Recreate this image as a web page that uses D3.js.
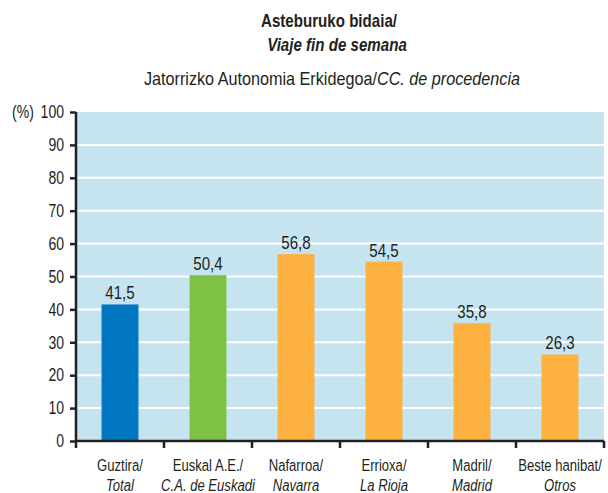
<!DOCTYPE html>
<html>
<head>
<meta charset="utf-8">
<script src="https://cdn.jsdelivr.net/npm/d3@7"></script>
<style>
  body { margin: 0; background: #fff; }
  text { font-family: "Liberation Sans", Arial, sans-serif; fill: #231f20; }
</style>
</head>
<body>
<div id="chart"></div>
<script>
// categories: [euskara, castellano]
const categories = [
  ["Guztira/", "Total"],
  ["Euskal A.E./", "C.A. de Euskadi"],
  ["Nafarroa/", "Navarra"],
  ["Errioxa/", "La Rioja"],
  ["Madril/", "Madrid"],
  ["Beste hanibat/", "Otros"]
];
const values = [41.5, 50.4, 56.8, 54.5, 35.8, 26.3];
const barColors = ["#0077c0", "#7dc242", "#fbb040", "#fbb040", "#fbb040", "#fbb040"];
const yTicks = [0, 10, 20, 30, 40, 50, 60, 70, 80, 90, 100];

const width = 608, height = 493;
const margin = { top: 112, right: 4, bottom: 52, left: 76 };

// letra estrecha: se comprime en horizontal alrededor de su x
function condense(sel, s) {
  sel.each(function() {
    const t = d3.select(this);
    const cx = +t.attr("x") || 0;
    t.attr("transform", `translate(${cx},0) scale(${s},1) translate(${-cx},0)`);
  });
}

const svg = d3.select("#chart").append("svg")
  .attr("width", width)
  .attr("height", height);

const x = d3.scaleBand()
  .domain(categories.map((d, i) => i))
  .range([margin.left, width - margin.right])
  .paddingInner(0)
  .paddingOuter(0);

const y = d3.scaleLinear()
  .domain([0, 100])
  .range([height - margin.bottom, margin.top]);

// fondo
svg.append("rect")
  .attr("x", margin.left)
  .attr("y", margin.top)
  .attr("width", width - margin.right - margin.left)
  .attr("height", y(0) - margin.top)
  .attr("fill", "#c5e4f0");

// rejilla blanca
svg.append("g")
  .selectAll("line")
  .data(yTicks.filter(d => d > 0 && d < 100))
  .enter()
  .append("line")
  .attr("x1", margin.left)
  .attr("x2", width - margin.right)
  .attr("y1", d => y(d))
  .attr("y2", d => y(d))
  .attr("stroke", "#fff")
  .attr("stroke-width", 2);

// barras
const barW = x.bandwidth() * 0.42;
svg.append("g")
  .selectAll("rect")
  .data(values)
  .enter()
  .append("rect")
  .attr("x", (d, i) => x(i) + x.bandwidth() / 2 - barW / 2)
  .attr("y", d => y(d))
  .attr("width", barW)
  .attr("height", d => y(0) - y(d))
  .attr("fill", (d, i) => barColors[i]);

// etiquetas de valor
svg.append("g")
  .selectAll("text")
  .data(values)
  .enter()
  .append("text")
  .attr("x", (d, i) => x(i) + x.bandwidth() / 2)
  .attr("y", d => y(d) - 5)
  .attr("text-anchor", "middle")
  .style("font-size", "18px")
  .text(d => d.toFixed(1).replace(".", ","))
  .call(condense, 0.84);

// eje Y
const yAxis = svg.append("g")
  .attr("transform", `translate(${margin.left},0)`)
  .call(d3.axisLeft(y).tickValues(yTicks).tickSize(6).tickPadding(6));
yAxis.select(".domain").attr("stroke", "#231f20").attr("stroke-width", 2.5)
  .attr("d", `M0,${y(100)}V${y(0)}`);
yAxis.selectAll(".tick line").attr("stroke", "#231f20").attr("stroke-width", 2.5);
yAxis.selectAll(".tick text").style("font-size", "18px").attr("fill", "#231f20")
  .style("font-family", "'Liberation Sans', Arial, sans-serif")
  .call(condense, 0.78);

svg.append("text")
  .attr("x", 12)
  .attr("y", y(100) + 6)
  .style("font-size", "18px")
  .text("(%)")
  .call(condense, 0.78);

// eje X
const xAxis = svg.append("g")
  .attr("transform", `translate(0,${y(0)})`)
  .call(d3.axisBottom(x).tickSize(0).tickFormat(""));
xAxis.select(".domain").attr("stroke", "#231f20").attr("stroke-width", 2.5)
  .attr("d", `M${margin.left},0H${width - margin.right}`);
xAxis.selectAll(".tick").remove();

// marcas entre categorías
const edges = categories.map((d, i) => x(i)).concat([x(categories.length - 1) + x.bandwidth()]);
xAxis.selectAll("line.sep")
  .data(edges)
  .enter()
  .append("line")
  .attr("class", "sep")
  .attr("x1", d => d)
  .attr("x2", d => d)
  .attr("y1", 0)
  .attr("y2", 7)
  .attr("stroke", "#231f20")
  .attr("stroke-width", 2.5);

const labels = svg.append("g")
  .selectAll("text")
  .data(categories)
  .enter()
  .append("text")
  .attr("x", (d, i) => x(i) + x.bandwidth() / 2)
  .attr("text-anchor", "middle")
  .style("font-size", "17px");
labels.append("tspan")
  .attr("x", (d, i) => x(i) + x.bandwidth() / 2)
  .attr("y", y(0) + 30)
  .text(d => d[0]);
labels.append("tspan")
  .attr("x", (d, i) => x(i) + x.bandwidth() / 2)
  .attr("y", y(0) + 50)
  .style("font-style", "italic")
  .text(d => d[1]);
labels.call(condense, 0.77);

// títulos
svg.append("text")
  .attr("x", 329)
  .attr("y", 27)
  .attr("text-anchor", "middle")
  .style("font-size", "18px")
  .style("font-weight", "bold")
  .text("Asteburuko bidaia/")
  .call(condense, 0.84);
svg.append("text")
  .attr("x", 337)
  .attr("y", 51)
  .attr("text-anchor", "middle")
  .style("font-size", "18px")
  .style("font-weight", "bold")
  .style("font-style", "italic")
  .text("Viaje fin de semana")
  .call(condense, 0.84);

const sub = svg.append("text")
  .attr("x", 332)
  .attr("y", 85)
  .attr("text-anchor", "middle")
  .style("font-size", "18px");
sub.append("tspan").text("Jatorrizko Autonomia Erkidegoa/");
sub.append("tspan").style("font-style", "italic").text("CC. de procedencia");
sub.call(condense, 0.9);
</script>
</body>
</html>
